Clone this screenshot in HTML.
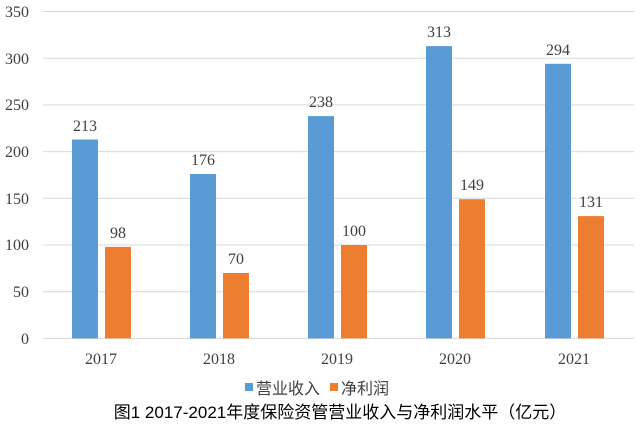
<!DOCTYPE html>
<html><head><meta charset="utf-8"><style>
body{margin:0;background:#fff}
svg text{font-family:"Liberation Serif","Noto Serif CJK SC",serif;fill:#404040}
</style></head><body>
<svg width="640" height="430" xmlns="http://www.w3.org/2000/svg">
<rect width="640" height="430" fill="#fff"/>
<g stroke="#d9d9d9" stroke-width="1">
<line x1="43" x2="634" y1="11.5" y2="11.5"/>
<line x1="43" x2="634" y1="58.2" y2="58.2"/>
<line x1="43" x2="634" y1="104.9" y2="104.9"/>
<line x1="43" x2="634" y1="151.6" y2="151.6"/>
<line x1="43" x2="634" y1="198.3" y2="198.3"/>
<line x1="43" x2="634" y1="245" y2="245"/>
<line x1="43" x2="634" y1="291.7" y2="291.7"/>
<line x1="43" x2="634" y1="338.4" y2="338.4"/>
</g>
<g font-size="16" text-anchor="end">
<text x="29" y="17">350</text><text x="29" y="64">300</text><text x="29" y="110">250</text>
<text x="29" y="157">200</text><text x="29" y="204">150</text><text x="29" y="250">100</text>
<text x="29" y="297">50</text><text x="29" y="344">0</text>
</g>
<g fill="#5b9bd5">
<rect x="72" y="139.5" width="26" height="198.9"/>
<rect x="190" y="174" width="26" height="164.4"/>
<rect x="308" y="116.1" width="26" height="222.3"/>
<rect x="426" y="46.1" width="26" height="292.3"/>
<rect x="545" y="63.8" width="26" height="274.6"/>
</g>
<g fill="#ed7d31">
<rect x="105" y="246.9" width="26" height="91.5"/>
<rect x="223" y="273" width="26" height="65.4"/>
<rect x="341" y="245" width="26" height="93.4"/>
<rect x="459" y="199.2" width="26" height="139.2"/>
<rect x="578" y="216.1" width="26" height="122.3"/>
</g>
<g font-size="16" text-anchor="middle">
<text x="85" y="131">213</text><text x="118" y="238">98</text>
<text x="203" y="165">176</text><text x="236" y="264">70</text>
<text x="321" y="107">238</text><text x="354" y="236">100</text>
<text x="439" y="37">313</text><text x="472" y="190">149</text>
<text x="558" y="55">294</text><text x="591" y="207">131</text>
</g>
<g font-size="16" text-anchor="middle">
<text x="101" y="364">2017</text><text x="219" y="364">2018</text>
<text x="337" y="364">2019</text><text x="455" y="364">2020</text>
<text x="574" y="364">2021</text>
</g>
<rect x="245" y="383" width="8" height="8" fill="#5b9bd5"/>
<text x="256" y="394" font-size="16" style="font-family:'Liberation Sans','Noto Sans CJK SC',sans-serif">营业收入</text>
<rect x="330" y="383" width="8" height="8" fill="#ed7d31"/>
<text x="341" y="394" font-size="16" style="font-family:'Liberation Sans','Noto Sans CJK SC',sans-serif">净利润</text>
<text x="340" y="418" font-size="17" text-anchor="middle" style="fill:#000;font-family:'Liberation Sans','Noto Sans CJK SC',sans-serif">图1 2017-2021年度保险资管营业收入与净利润水平（亿元）</text>
</svg>
</body></html>
